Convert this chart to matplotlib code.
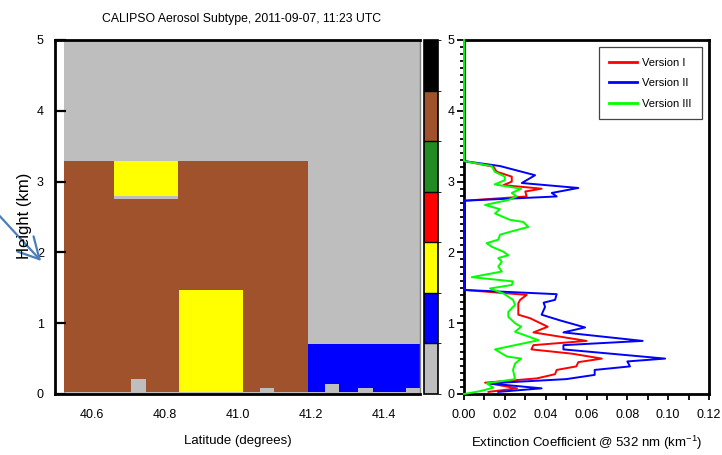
import numpy as np
import matplotlib
matplotlib.use("Agg")
import matplotlib.pyplot as plt
from matplotlib import font_manager
from matplotlib.colors import ListedColormap, BoundaryNorm
from matplotlib.cm import ScalarMappable
from matplotlib.patches import FancyArrowPatch

# ---------------------------------------------------------------- fonts
_names = {f.name for f in font_manager.fontManager.ttflist}
NARROW = "Liberation Sans Narrow" if "Liberation Sans Narrow" in _names else "Liberation Sans"
plt.rcParams["font.family"] = [NARROW, "Liberation Sans", "DejaVu Sans"]
plt.rcParams["mathtext.fontset"] = "custom"
plt.rcParams["mathtext.rm"] = NARROW
plt.rcParams["mathtext.it"] = NARROW

# ---------------------------------------------------------------- data
# aerosol subtype palette (code 0 = clear / not determined)
subtype_colors = ["#BEBEBE", "#0000FF", "#FFFF00", "#FF0000",
                  "#228B22", "#A0522D", "#000000"]

# curtain layers: latitude span, base/top height (km), subtype code
layer_lat_start = [40.526, 40.526, 40.663, 40.663, 40.841, 41.194,
                   40.707, 41.063, 41.241, 41.329, 41.463]
layer_lat_end = [41.500, 41.194, 40.836, 40.836, 41.014, 41.500,
                 40.748, 41.101, 41.279, 41.370, 41.500]
layer_base = [0.00, 0.03, 2.79, 2.75, 0.03, 0.03,
              0.00, 0.00, 0.00, 0.00, 0.00]
layer_top = [5.00, 3.29, 3.29, 2.79, 1.47, 0.71,
             0.21, 0.085, 0.14, 0.085, 0.085]
layer_type = [0, 5, 2, 0, 2, 1, 0, 0, 0, 0, 0]

lat_ticks = [40.6, 40.8, 41.0, 41.2, 41.4]

# extinction profiles (km^-1) vs height (km)
v1_height = [5.00, 3.29, 3.21, 3.14, 3.07, 3.00, 2.95, 2.90, 2.86, 2.79, 2.73,
             1.47, 1.40, 1.33, 1.28, 1.12, 1.07, 0.95, 0.87, 0.75, 0.69, 0.63,
             0.57, 0.50, 0.45, 0.39, 0.34, 0.28, 0.22, 0.16, 0.08, 0.03]
v1_ext = [0.0, 0.0, 0.0144, 0.0160, 0.0234, 0.0234, 0.0193, 0.0380, 0.0300, 0.0307, 0.0,
          0.0, 0.0307, 0.0275, 0.0266, 0.0266, 0.0324, 0.0410, 0.0340, 0.0600, 0.0340, 0.0330,
          0.0528, 0.0675, 0.0560, 0.0550, 0.0454, 0.0446, 0.0356, 0.0103, 0.0260, 0.0120]

v2_height = [5.00, 3.29, 3.22, 3.09, 2.98, 2.91, 2.84, 2.79, 2.73,
             1.47, 1.41, 1.33, 1.29, 1.23, 1.12, 1.04, 0.94, 0.87, 0.75, 0.69, 0.63,
             0.50, 0.46, 0.39, 0.34, 0.27, 0.21, 0.15, 0.08, 0.03]
v2_ext = [0.0, 0.0, 0.0176, 0.0348, 0.0283, 0.0560, 0.0430, 0.0454, 0.0,
          0.0, 0.0454, 0.0446, 0.0390, 0.0397, 0.0380, 0.0470, 0.0593, 0.0487, 0.0875, 0.0487, 0.0487,
          0.0985, 0.0800, 0.0813, 0.0640, 0.0640, 0.0500, 0.0120, 0.0380, 0.0168]

v3_height = [5.00, 3.29, 3.22, 3.14, 3.07, 3.02, 2.96, 2.90, 2.84, 2.79, 2.74,
             2.67, 2.61, 2.55, 2.46, 2.43, 2.36, 2.29, 2.25, 2.18, 2.13, 2.08,
             2.01, 1.96, 1.92, 1.87, 1.80, 1.73, 1.65, 1.59, 1.54, 1.49, 1.42,
             1.33, 1.26, 1.16, 1.09, 1.00, 0.95, 0.88, 0.76, 0.63, 0.53, 0.50,
             0.43, 0.34, 0.21, 0.15, 0.09, 0.04, 0.00]
v3_ext = [0.0, 0.0, 0.0136, 0.0150, 0.0200, 0.0200, 0.0150, 0.0280, 0.0234, 0.0258, 0.0217,
          0.0103, 0.0176, 0.0152, 0.0225, 0.0290, 0.0315, 0.0225, 0.0176, 0.0168, 0.0111, 0.0136,
          0.0193, 0.0217, 0.0168, 0.0185, 0.0168, 0.0185, 0.0038, 0.0240, 0.0234, 0.0127, 0.0193,
          0.0240, 0.0250, 0.0217, 0.0217, 0.0250, 0.0280, 0.0250, 0.0365, 0.0152, 0.0210, 0.0280,
          0.0250, 0.0240, 0.0250, 0.0111, 0.0144, 0.0078, 0.0]

series_labels = ["Version I", "Version II", "Version III"]
series_colors = ["#FF0000", "#0000FF", "#00FF00"]

# ---------------------------------------------------------------- figure
W, H = 722, 455
fig = plt.figure(figsize=(W / 100, H / 100), dpi=100)


def box(x0, y0, x1, y1):
    """pixel box (top-left origin) -> figure fraction rect"""
    return [x0 / W, 1 - y1 / H, (x1 - x0) / W, (y1 - y0) / H]


ax = fig.add_axes(box(55, 40, 420, 394))
cax = fig.add_axes(box(424, 40, 438, 394))
ax2 = fig.add_axes(box(464, 40, 709, 394))

# ---- subtype curtain
for x0, x1, b, t, c in zip(layer_lat_start, layer_lat_end, layer_base, layer_top, layer_type):
    ax.bar(x0, t - b, width=x1 - x0, bottom=b, align="edge",
           color=subtype_colors[c], linewidth=0)

ax.set_xlim(40.50, 41.50)
ax.set_ylim(0, 5)
ax.set_xticks(lat_ticks)
ax.set_xticklabels([f"{v:.1f}" for v in lat_ticks])
ax.set_yticks(range(6))
ax.tick_params(axis="x", length=0, pad=11, labelsize=9)
ax.tick_params(axis="y", direction="in", length=8, width=1.6, pad=8, labelsize=9)
for side in ("left", "top", "bottom"):
    ax.spines[side].set_linewidth(2)
ax.spines["right"].set_linewidth(1)
ax.spines["right"].set_color("#808080")
ax.set_xlabel("Latitude (degrees)", fontsize=9.5, labelpad=10)

# ---- subtype colour bar
cmap = ListedColormap(subtype_colors)
norm = BoundaryNorm(np.arange(len(subtype_colors) + 1), cmap.N)
cb = fig.colorbar(ScalarMappable(norm=norm, cmap=cmap), cax=cax, drawedges=True)
cb.set_ticks([])
cb.outline.set_linewidth(1.2)
cb.dividers.set_linewidth(1.0)

# ---- extinction profiles
for h, e, lab, col in zip([v1_height, v2_height, v3_height],
                          [v1_ext, v2_ext, v3_ext], series_labels, series_colors):
    ax2.plot(e, h, color=col, lw=1.4, label=lab, zorder=3, clip_on=False)

ax2.set_xlim(0, 0.12)
ax2.set_ylim(0, 5)
ax2.set_xticks(np.arange(0, 0.1201, 0.02))
ax2.set_xticklabels([f"{v:.2f}" for v in np.arange(0, 0.1201, 0.02)])
ax2.set_xticks(np.arange(0, 0.1201, 0.01), minor=True)
ax2.set_yticks(range(6))
ax2.set_yticks(np.arange(0, 5.001, 0.1), minor=True)
ax2.tick_params(axis="x", which="both", direction="out", length=4, width=1.3,
                pad=7, labelsize=9)
ax2.tick_params(axis="y", which="major", direction="out", length=5, width=1.3,
                pad=2, labelsize=9)
ax2.tick_params(axis="y", which="minor", direction="out", length=3, width=1.3)
for side in ax2.spines:
    ax2.spines[side].set_linewidth(2)
ax2.set_xlabel(r"Extinction Coefficient @ 532 nm (km$^{\mathregular{-1}}$)",
               fontsize=9.5, labelpad=9)

leg = ax2.legend(loc="upper right", bbox_to_anchor=(0.971, 0.980), borderaxespad=0,
                 fancybox=False, framealpha=1, edgecolor="#444444", fontsize=8,
                 handlelength=2.5, handletextpad=0.45, labelspacing=0.95,
                 borderpad=0.95)
leg.get_frame().set_linewidth(0.9)
for line in leg.get_lines():
    line.set_linewidth(2)

# ---- titles and labels
fig.text(242 / W, 1 - 19 / H, "CALIPSO Aerosol Subtype, 2011-09-07, 11:23 UTC",
         ha="center", va="center", fontsize=8.8)
fig.text(25 / W, 1 - 216 / H, "Height (km)", rotation=90, ha="center", va="center",
         fontsize=12, family=["Liberation Sans", "DejaVu Sans"])

# pointer arrow at the height axis
arrow = FancyArrowPatch((-4, H - 212), (43, H - 263), transform=None,
                        arrowstyle="->,head_length=1.5,head_width=0.8",
                        mutation_scale=10, color="#4A7EBB", lw=1.6)
fig.add_artist(arrow)

fig.savefig("out.png", dpi=100)
